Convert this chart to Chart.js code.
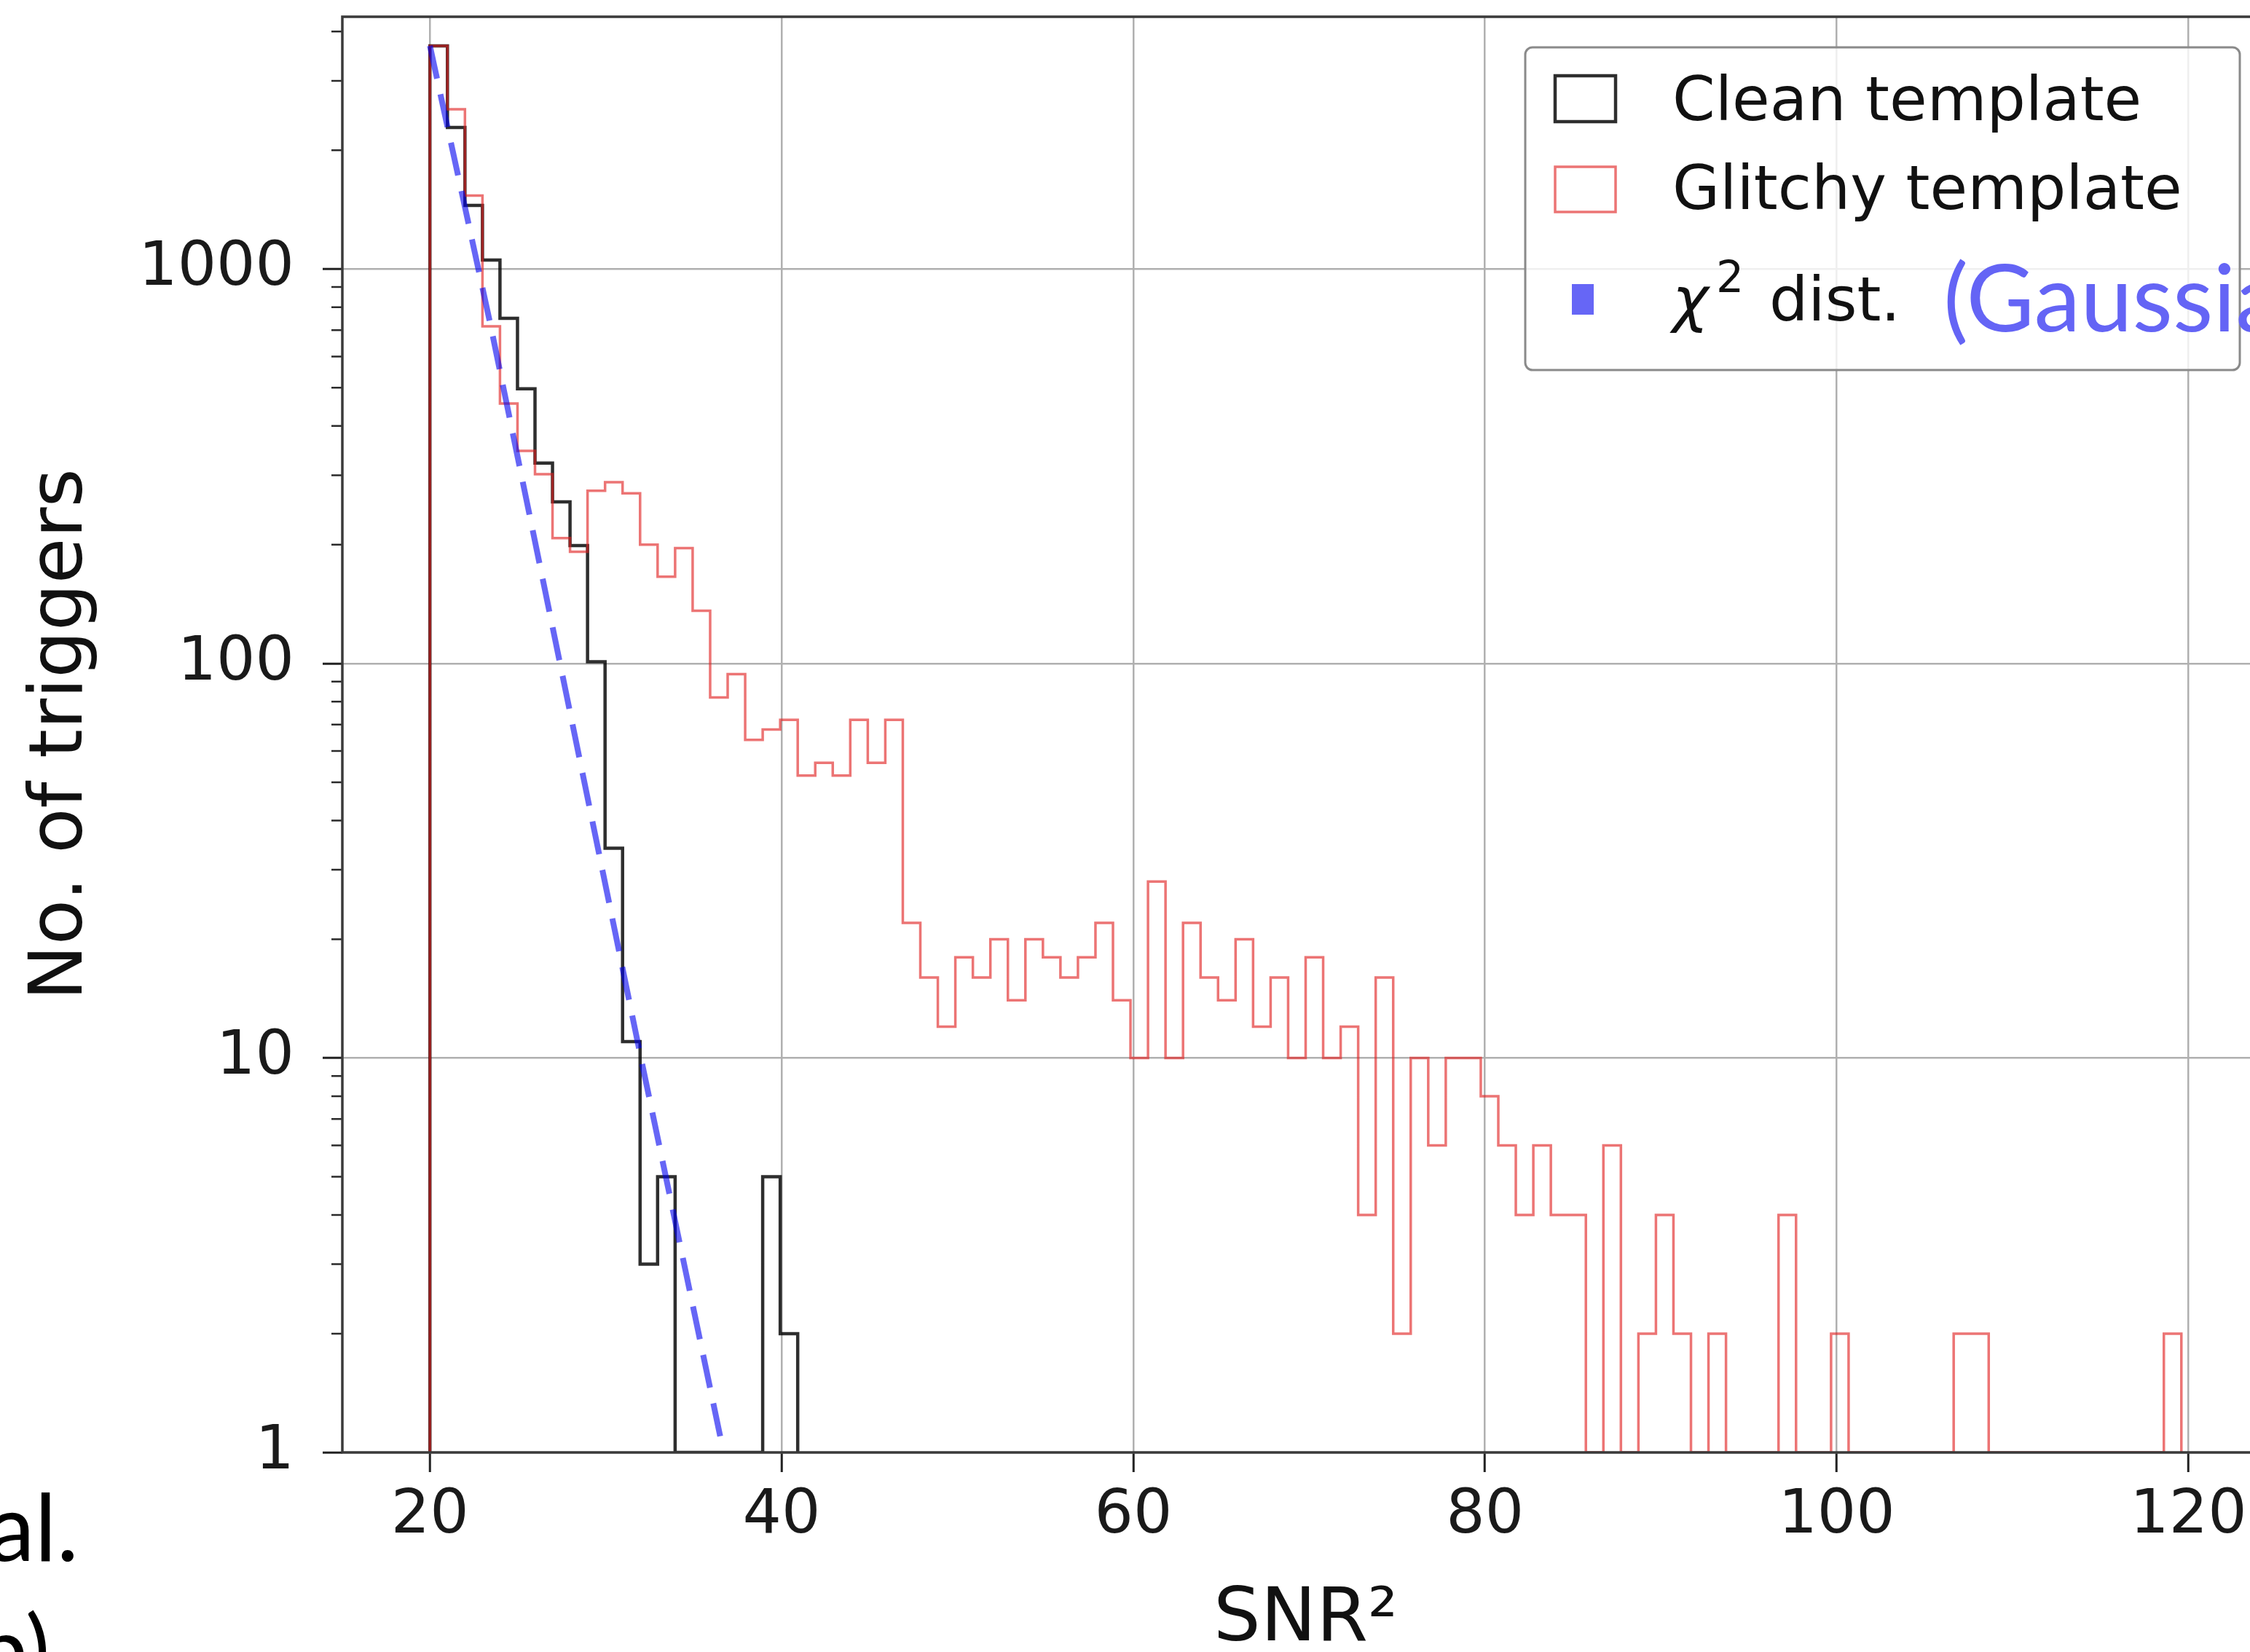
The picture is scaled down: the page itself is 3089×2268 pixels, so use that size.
<!DOCTYPE html>
<html>
<head>
<meta charset="utf-8">
<title>Triggers vs SNR²</title>
<script src="https://cdn.jsdelivr.net/npm/chart.js@4.4.1/dist/chart.umd.min.js"></script>
<style>
  html, body { margin: 0; padding: 0; background: #fff; overflow: hidden; }
  canvas { display: block; }
</style>
</head>
<body>
<canvas id="trigger-hist" width="3140" height="2268"></canvas>
<script>
// Histogram binning in SNR^2 (same bins for both templates)
const binStart = 20;
const binWidth = 0.996;

// Trigger counts per bin
const cleanCounts = [3680, 2284, 1450, 1054, 750, 497, 322, 257, 199, 101,
                     34, 11, 3, 5, 0, 0, 0, 0, 0, 5, 2];
const glitchyCounts = [
  3680, 2540, 1536, 716, 456, 346, 302, 208, 192, 274,
  288, 270, 200, 166, 196, 136, 82, 94, 64, 68,
  72, 52, 56, 52, 72, 56, 72, 22, 16, 12,
  18, 16, 20, 14, 20, 18, 16, 18, 22, 14,
  10, 28, 10, 22, 16, 14, 20, 12, 16, 10,
  18, 10, 12, 4, 16, 2, 10, 6, 10, 10,
  8, 6, 4, 6, 4, 4, 0, 6, 0, 2,
  4, 2, 0, 2, 0, 0, 0, 4, 0, 0,
  2, 0, 0, 0, 0, 0, 0, 2, 2, 0,
  0, 0, 0, 0, 0, 0, 0, 0, 0, 2
];

// chi^2 expectation for Gaussian noise (dashed curve)
const chi2Snr2 = [20, 23.45, 27.4, 32.0, 36.7];
const chi2Counts = [3680, 720, 100, 10, 1];

// Axis ticks
const xTickValues = [20, 40, 60, 80, 100, 120];
const yMajorTicks = [1, 10, 100, 1000];
const yMinorSteps = [2, 3, 4, 5, 6, 7, 8, 9];

const xMin = 15.02, xMax = 124.58;
const yMin = 1, yMax = 4360;

const yMinorTicks = [];
yMajorTicks.forEach(d => yMinorSteps.forEach(s => { if (s * d < yMax) yMinorTicks.push(s * d); }));

// Outline of a step histogram: empty bins sit on the log axis floor
function stepPoints(counts) {
  const pts = [{ x: binStart, y: yMin }];
  counts.forEach((c, i) => pts.push({ x: binStart + i * binWidth, y: Math.max(c, yMin) }));
  pts.push({ x: binStart + counts.length * binWidth, y: yMin });
  return pts;
}

const majorOnly = (on, off) => (ctx) => yMajorTicks.includes(ctx.tick.value) ? on : off;

// Axes frame and minor ticks on the log axis
const frameAndTicks = {
  id: 'frameAndTicks',
  afterDatasetsDraw(chart) {
    const { ctx, chartArea: a, scales } = chart;
    ctx.save();
    ctx.strokeStyle = '#2a2a2a';
    ctx.lineWidth = 2.5;
    ctx.beginPath();
    yMinorTicks.forEach(v => {
      const y = scales.y.getPixelForValue(v);
      ctx.moveTo(a.left, y);
      ctx.lineTo(a.left - 15, y);
    });
    ctx.stroke();
    ctx.strokeStyle = '#3a3a3a';
    ctx.lineWidth = 3.5;
    ctx.strokeRect(a.left, a.top, a.right - a.left, a.bottom - a.top);
    ctx.restore();
  }
};

// Legend in the upper right, plus the slide annotations
const legendBox = {
  id: 'legendBox',
  afterDraw(chart) {
    const { ctx, chartArea: a } = chart;
    const ds = chart.data.datasets;
    const w = 981, h = 443;
    const left = a.right - 40 - w, top = a.top + 42;
    ctx.save();
    ctx.beginPath();
    ctx.roundRect(left, top, w, h, 10);
    ctx.fillStyle = 'rgba(255,255,255,0.8)';
    ctx.fill();
    ctx.lineWidth = 3;
    ctx.strokeStyle = '#8a8a8a';
    ctx.stroke();

    const hx = left + 41, tx = left + 202;
    // clean / glitchy handles
    ctx.lineWidth = 4.5;
    ctx.strokeStyle = ds[0].borderColor;
    ctx.strokeRect(hx, top + 39, 83, 63);
    ctx.lineWidth = 3.5;
    ctx.strokeStyle = ds[1].borderColor;
    ctx.strokeRect(hx, top + 164, 83, 62);
    ctx.fillStyle = ds[2].borderColor;
    ctx.fillRect(hx + 23, top + 325, 30, 42);

    ctx.fillStyle = '#111';
    ctx.textBaseline = 'alphabetic';
    ctx.textAlign = 'left';
    ctx.font = '84px "DejaVu Sans"';
    ctx.fillText(ds[0].label, tx, top + 100);
    ctx.fillText(ds[1].label, tx, top + 222);
    ctx.font = 'italic 84px "DejaVu Sans"';
    ctx.fillText('χ', tx, top + 375);
    ctx.font = '60px "DejaVu Sans"';
    ctx.fillText('2', tx + 60, top + 336);
    ctx.font = '84px "DejaVu Sans"';
    ctx.fillText('dist.', tx + 133, top + 375);

    ctx.fillStyle = '#6464f5';
    ctx.font = '128px Lato';
    ctx.fillText('(Gaussian)', tx + 372, top + 390);

    ctx.fillStyle = '#000';
    ctx.font = '128px Lato';
    ctx.textAlign = 'right';
    ctx.fillText('al.', 108, 2143);
    ctx.fillText('b)', 69, 2310);
    ctx.restore();
  }
};

Chart.defaults.font.family = '"DejaVu Sans"';

new Chart(document.getElementById('trigger-hist'), {
  type: 'line',
  data: {
    datasets: [
      {
        label: 'Clean template',
        data: stepPoints(cleanCounts),
        borderColor: 'rgba(0,0,0,0.82)',
        borderWidth: 4.5,
        stepped: 'before',
        borderJoinStyle: 'miter',
        pointRadius: 0,
        fill: false,
        order: 3
      },
      {
        label: 'Glitchy template',
        data: stepPoints(glitchyCounts),
        borderColor: 'rgba(225,30,30,0.62)',
        borderWidth: 3.5,
        stepped: 'before',
        borderJoinStyle: 'miter',
        pointRadius: 0,
        fill: false,
        order: 2
      },
      {
        label: 'χ² dist.',
        data: chi2Snr2.map((x, i) => ({ x, y: chi2Counts[i] })),
        borderColor: 'rgba(0,0,240,0.6)',
        borderWidth: 8,
        borderDash: [46, 22],
        pointRadius: 0,
        fill: false,
        order: 1
      }
    ]
  },
  options: {
    responsive: false,
    animation: false,
    layout: { padding: { top: 23, right: 25, bottom: 0, left: 0 } },
    plugins: {
      legend: { display: false },
      tooltip: { enabled: false }
    },
    scales: {
      x: {
        type: 'linear',
        min: xMin,
        max: xMax,
        afterBuildTicks: (s) => { s.ticks = xTickValues.map(v => ({ value: v })); },
        afterFit: (s) => { s.height = 274; s.paddingLeft = 0; s.paddingRight = 0; },
        ticks: {
          autoSkip: false,
          maxRotation: 0,
          padding: 11,
          color: '#1a1a1a',
          font: { size: 84 },
          callback: (v) => String(v)
        },
        grid: {
          color: '#b0b0b0',
          lineWidth: 2.5,
          tickLength: 27,
          tickWidth: 3,
          tickColor: '#222'
        },
        border: { display: false },
        title: {
          display: true,
          text: 'SNR²',
          color: '#111',
          font: { size: 102, lineHeight: 0.84 },
          padding: 0
        }
      },
      y: {
        type: 'logarithmic',
        min: yMin,
        max: yMax,
        afterBuildTicks: (s) => {
          s.ticks = yMajorTicks.concat(yMinorTicks)
            .sort((p, q) => p - q)
            .map(v => ({ value: v, major: yMajorTicks.includes(v) }));
        },
        afterFit: (s) => { s.width = 470; s.paddingTop = 0; s.paddingBottom = 0; },
        ticks: {
          autoSkip: false,
          padding: 39,
          color: '#1a1a1a',
          font: { size: 84 },
          callback: (v) => yMajorTicks.includes(v) ? String(v) : null
        },
        grid: {
          color: majorOnly('#b0b0b0', 'rgba(0,0,0,0)'),
          lineWidth: 2.5,
          tickLength: 27,
          tickWidth: 3,
          tickColor: majorOnly('#222', 'rgba(0,0,0,0)')
        },
        border: { display: false },
        title: {
          display: true,
          text: 'No. of triggers',
          color: '#111',
          font: { size: 102 },
          padding: { top: 24, bottom: 0 }
        }
      }
    }
  },
  plugins: [frameAndTicks, legendBox]
});
</script>
</body>
</html>
